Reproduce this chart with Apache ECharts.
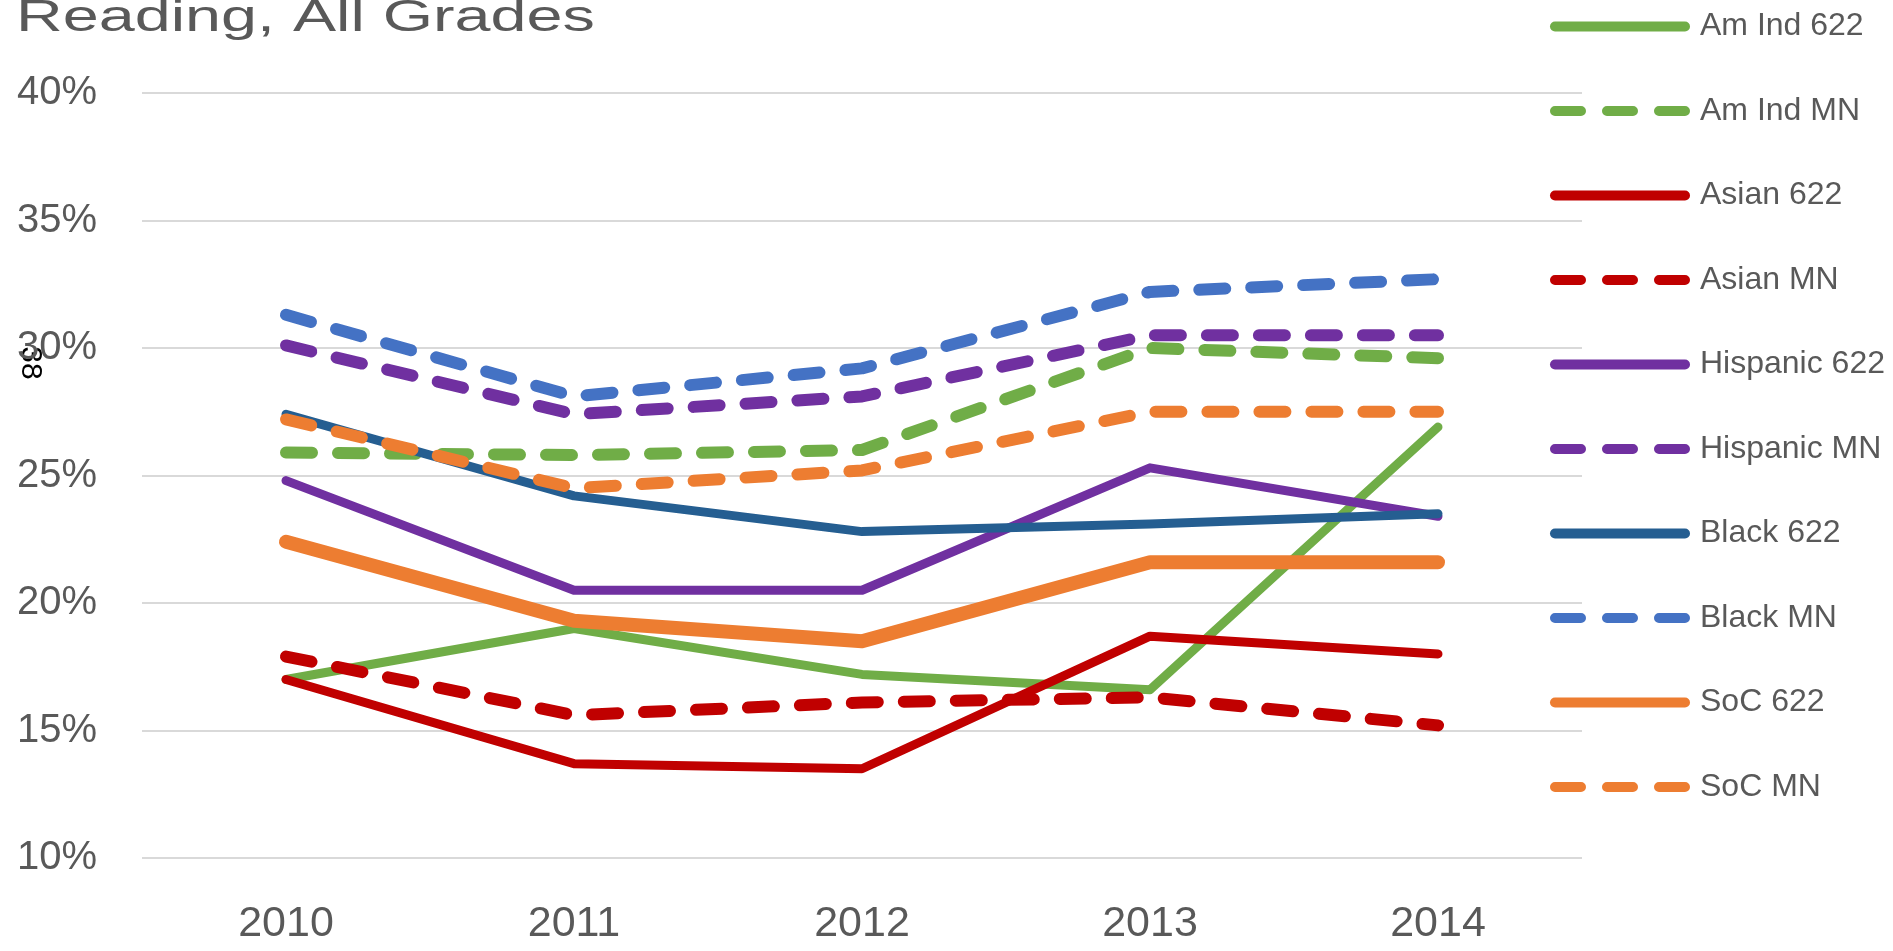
<!DOCTYPE html>
<html>
<head>
<meta charset="utf-8">
<title>Reading, All Grades</title>
<script src="https://cdn.jsdelivr.net/npm/echarts@6/dist/echarts.min.js"></script>
<style>
  html, body { margin: 0; padding: 0; background: #fff; }
  #main { width: 1893px; height: 951px; }
</style>
</head>
<body>
<div id="main"></div>
<script>
// 数据
var years = ['2010', '2011', '2012', '2013', '2014'];
var seriesNames = ['Am Ind 622', 'Am Ind MN', 'Asian 622', 'Asian MN', 'Hispanic 622',
    'Hispanic MN', 'Black 622', 'Black MN', 'SoC 622', 'SoC MN'];
var amInd622 = [17.0, 19.0, 17.2, 16.6, 26.9];
var amIndMN = [25.9, 25.8, 26.0, 30.0, 29.6];
var asian622 = [17.0, 13.7, 13.5, 18.7, 18.0];
var asianMN = [17.9, 15.6, 16.1, 16.3, 15.2];
var hispanic622 = [24.8, 20.5, 20.5, 25.3, 23.4];
var hispanicMN = [30.1, 27.4, 28.1, 30.5, 30.5];
var black622 = [27.4, 24.2, 22.8, 23.1, 23.5];
var blackMN = [31.3, 28.1, 29.2, 32.2, 32.7];
var soc622 = [22.4, 19.3, 18.5, 21.6, 21.6];
var socMN = [27.2, 24.5, 25.2, 27.5, 27.5];

var valuesList = [amInd622, amIndMN, asian622, asianMN, hispanic622,
    hispanicMN, black622, blackMN, soc622, socMN];
var colors = ['#70AD47', '#70AD47', '#C00000', '#C00000', '#7030A0',
    '#7030A0', '#255E91', '#4472C4', '#ED7D31', '#ED7D31'];

var FONT = '"Liberation Sans", Arial, sans-serif';
var dash = [26, 26];

function makeSeries(i) {
    var isDashed = seriesNames[i].indexOf('MN') > -1;
    var width = isDashed ? 12 : 9;
    if (seriesNames[i] === 'SoC 622') width = 14;
    return {
        name: seriesNames[i],
        type: 'line',
        data: valuesList[i],
        symbol: 'none',
        smooth: false,
        lineStyle: {
            color: colors[i],
            width: width,
            type: isDashed ? dash : 'solid',
            cap: 'round',
            join: 'round'
        },
        itemStyle: { color: colors[i] },
        emphasis: { disabled: true }
    };
}

var series = [];
for (var i = 0; i < seriesNames.length; i++) {
    series.push(makeSeries(i));
}

var myChart = echarts.init(document.getElementById('main'));
var option = {
    animation: false,
    backgroundColor: '#fff',
    grid: {
        left: 142,
        right: 311,
        top: 93,
        bottom: 93,
        containLabel: false
    },
    graphic: [{
        //标题（横向拉宽）
        type: 'text',
        x: 16,
        y: 19,
        scaleX: 1.47,
        style: {
            text: 'Reading, All Grades',
            fill: '#595959',
            font: '44px ' + FONT,
            textAlign: 'left',
            textVerticalAlign: 'middle'
        }
    }, {
        //左边旋转的页码
        type: 'text',
        x: 30,
        y: 363,
        rotation: -Math.PI / 2,
        style: {
            text: '38',
            fill: '#000',
            font: '30px ' + FONT,
            textAlign: 'center',
            textVerticalAlign: 'middle'
        }
    }],
    legend: {
        orient: 'vertical',
        left: 1550,
        top: 10.5,
        padding: 0,
        itemWidth: 130,
        itemHeight: 32,
        itemGap: 52.5,
        data: seriesNames,
        selectedMode: false,
        itemStyle: { opacity: 0 },
        lineStyle: {
            width: 10,
            cap: 'round'
        },
        textStyle: {
            color: '#595959',
            fontSize: 32,
            fontFamily: FONT,
            lineHeight: 32,
            padding: [0, 0, 0, 10]
        }
    },
    xAxis: {
        type: 'category',
        boundaryGap: true,
        data: years,
        axisLine: { show: false },
        axisTick: { show: false },
        axisLabel: {
            color: '#595959',
            fontSize: 43,
            fontFamily: FONT,
            margin: 45
        }
    },
    yAxis: {
        type: 'value',
        min: 10,
        max: 40,
        interval: 5,
        axisLine: { show: false },
        axisTick: { show: false },
        axisLabel: {
            formatter: '{value}%',
            color: '#595959',
            fontSize: 40,
            fontFamily: FONT,
            margin: 45
        },
        splitLine: {
            show: true,
            lineStyle: { color: '#D9D9D9', width: 2 }
        }
    },
    series: series
};
myChart.setOption(option);
</script>
</body>
</html>
